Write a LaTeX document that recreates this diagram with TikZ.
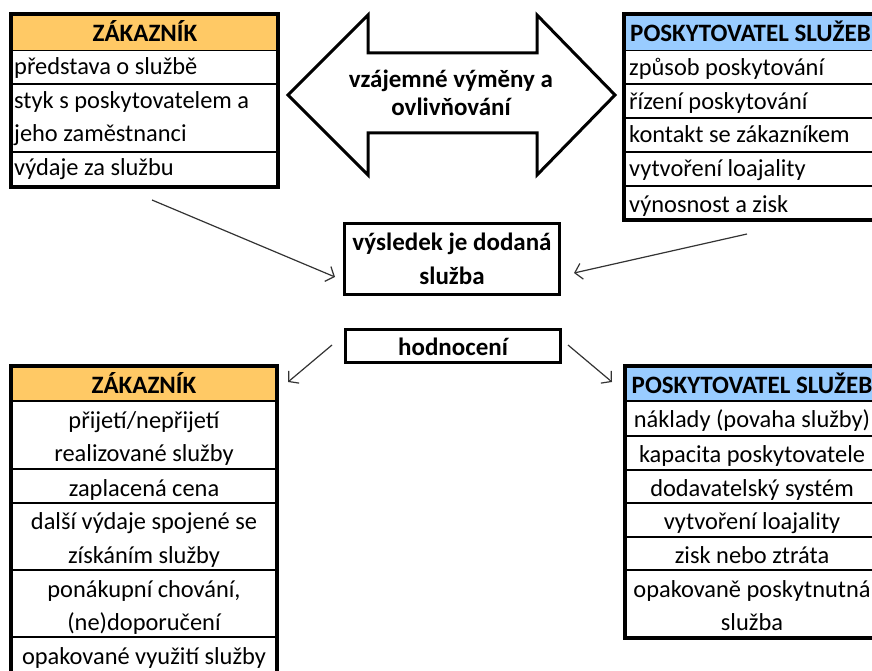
\documentclass[tikz,border=0pt]{standalone}
\usepackage{fontspec}
\setmainfont{Carlito}
\usetikzlibrary{arrows.meta}
\definecolor{hdrorange}{HTML}{FFC965}
\definecolor{hdrblue}{HTML}{99CCFF}
\newcommand{\cellfont}{\fontsize{24.4}{33}\selectfont}
\newcommand{\hdrfont}{\fontsize{25}{33}\selectfont\bfseries}
\begin{document}
\begin{tikzpicture}[x=1pt,y=-1pt,
  outer/.style={line width=3.8pt},
  inner/.style={line width=1.3pt},
  cell/.style={inner sep=0pt, font=\cellfont, anchor=base},
  lcell/.style={inner sep=0pt, font=\cellfont, anchor=base west},
  hdr/.style={inner sep=0pt, font=\hdrfont, anchor=base},
  boxstyle/.style={draw, line width=3.8pt, inner sep=0pt},
  conn/.style={line width=1.2pt, draw=black!80, -{Straight Barb[length=7pt,width=16pt,line width=1.2pt]}},
]
\useasboundingbox (0,0) rectangle (872,671);
\clip (0,0) rectangle (872,671);

% ---------- top-left table ----------
\fill[hdrorange] (11,14) rectangle (278,50.5);
\foreach \yy in {50.5,84,152} \draw[inner] (11,\yy) -- (278,\yy);
\draw[outer] (11,14) rectangle (278,187);
\node[hdr] (tlh) at (145,42) {ZÁKAZNÍK};
\node[lcell] (tl1) at (14,75) {představa o službě};
\node[lcell] (tl2) at (14,109) {styk s poskytovatelem a};
\node[lcell] (tl3) at (14,142) {jeho zaměstnanci};
\node[lcell] (tl4) at (14,176) {výdaje za službu};

% ---------- top-right table ----------
\fill[hdrblue] (624,14) rectangle (884,50.5);
\foreach \yy in {50.5,84,118,152,186} \draw[inner] (624,\yy) -- (884,\yy);
\draw[outer] (624,14) rectangle (884,220);
\node[hdr, anchor=base west] (trh) at (630,42) {POSKYTOVATEL SLUŽEB};
\node[lcell] (tr1) at (629,76) {způsob poskytování};
\node[lcell] (tr2) at (629,110) {řízení poskytování};
\node[lcell] (tr3) at (629,143) {kontakt se zákazníkem};
\node[lcell] (tr4) at (629,177) {vytvoření loajality};
\node[lcell] (tr5) at (629,212) {výnosnost a zisk};

% ---------- double arrow ----------
\draw[line width=3pt, line join=miter]
  (288,95) -- (368,15) -- (368,53) -- (537,53) -- (537,15) -- (615,95)
  -- (537,175) -- (537,133) -- (368,133) -- (368,175) -- cycle;
\node[hdr] (ex1) at (451,88) {vzájemné výměny a};
\node[hdr] (ex2) at (451,116) {ovlivňování};

% ---------- centre boxes ----------
\node[boxstyle, minimum width=215pt, minimum height=71pt] (res) at (452,259) {};
\node[hdr] (res1) at (452,250) {výsledek je dodaná};
\node[hdr] (res2) at (452,284) {služba};
\node[boxstyle, minimum width=215pt, minimum height=33pt] (hod) at (453,346) {};
\node[hdr] (hodt) at (453,355) {hodnocení};

% ---------- bottom-left table ----------
\fill[hdrorange] (11,366) rectangle (277,401);
\foreach \yy in {401,469,503,570,637} \draw[inner] (11,\yy) -- (277,\yy);
\draw[outer] (11,366) rectangle (277,700);
\node[hdr] (blh) at (144,393) {ZÁKAZNÍK};
\node[cell] (bl1) at (144,428) {přijetí/nepřijetí};
\node[cell] (bl2) at (144,461) {realizované služby};
\node[cell] (bl3) at (144,496) {zaplacená cena};
\node[cell] (bl4) at (144,529) {další výdaje spojené se};
\node[cell] (bl5) at (144,563) {získáním služby};
\node[cell] (bl6) at (144,597) {ponákupní chování,};
\node[cell] (bl7) at (144,630) {(ne)doporučení};
\node[cell] (bl8) at (144,664) {opakované využití služby};

% ---------- bottom-right table ----------
\fill[hdrblue] (625,366) rectangle (884,401);
\foreach \yy in {401,436,470,503,537,570} \draw[inner] (625,\yy) -- (884,\yy);
\draw[outer] (625,366) rectangle (884,638);
\node[hdr] (brh) at (752,393) {POSKYTOVATEL SLUŽEB};
\node[cell] (br1) at (752,427) {náklady (povaha služby)};
\node[cell] (br2) at (752,462) {kapacita poskytovatele};
\node[cell] (br3) at (752,496) {dodavatelský systém};
\node[cell] (br4) at (752,529) {vytvoření loajality};
\node[cell] (br5) at (752,563) {zisk nebo ztráta};
\node[cell] (br6) at (752,597) {opakovaně poskytnutná};
\node[cell] (br7) at (752,630) {služba};

% ---------- connectors ----------
\coordinate (c1s) at (152,200);
\coordinate (c1e) at (335,277);
\coordinate (c2s) at (747,234);
\coordinate (c2e) at (574,273);
\coordinate (c3s) at (332,345);
\coordinate (c3e) at (288,382);
\coordinate (c4s) at (568,345);
\coordinate (c4e) at (612,382);
\draw[conn] (c1s) -- (c1e);
\draw[conn] (c2s) -- (c2e);
\draw[conn] (c3s) -- (c3e);
\draw[conn] (c4s) -- (c4e);
\end{tikzpicture}
\end{document}
